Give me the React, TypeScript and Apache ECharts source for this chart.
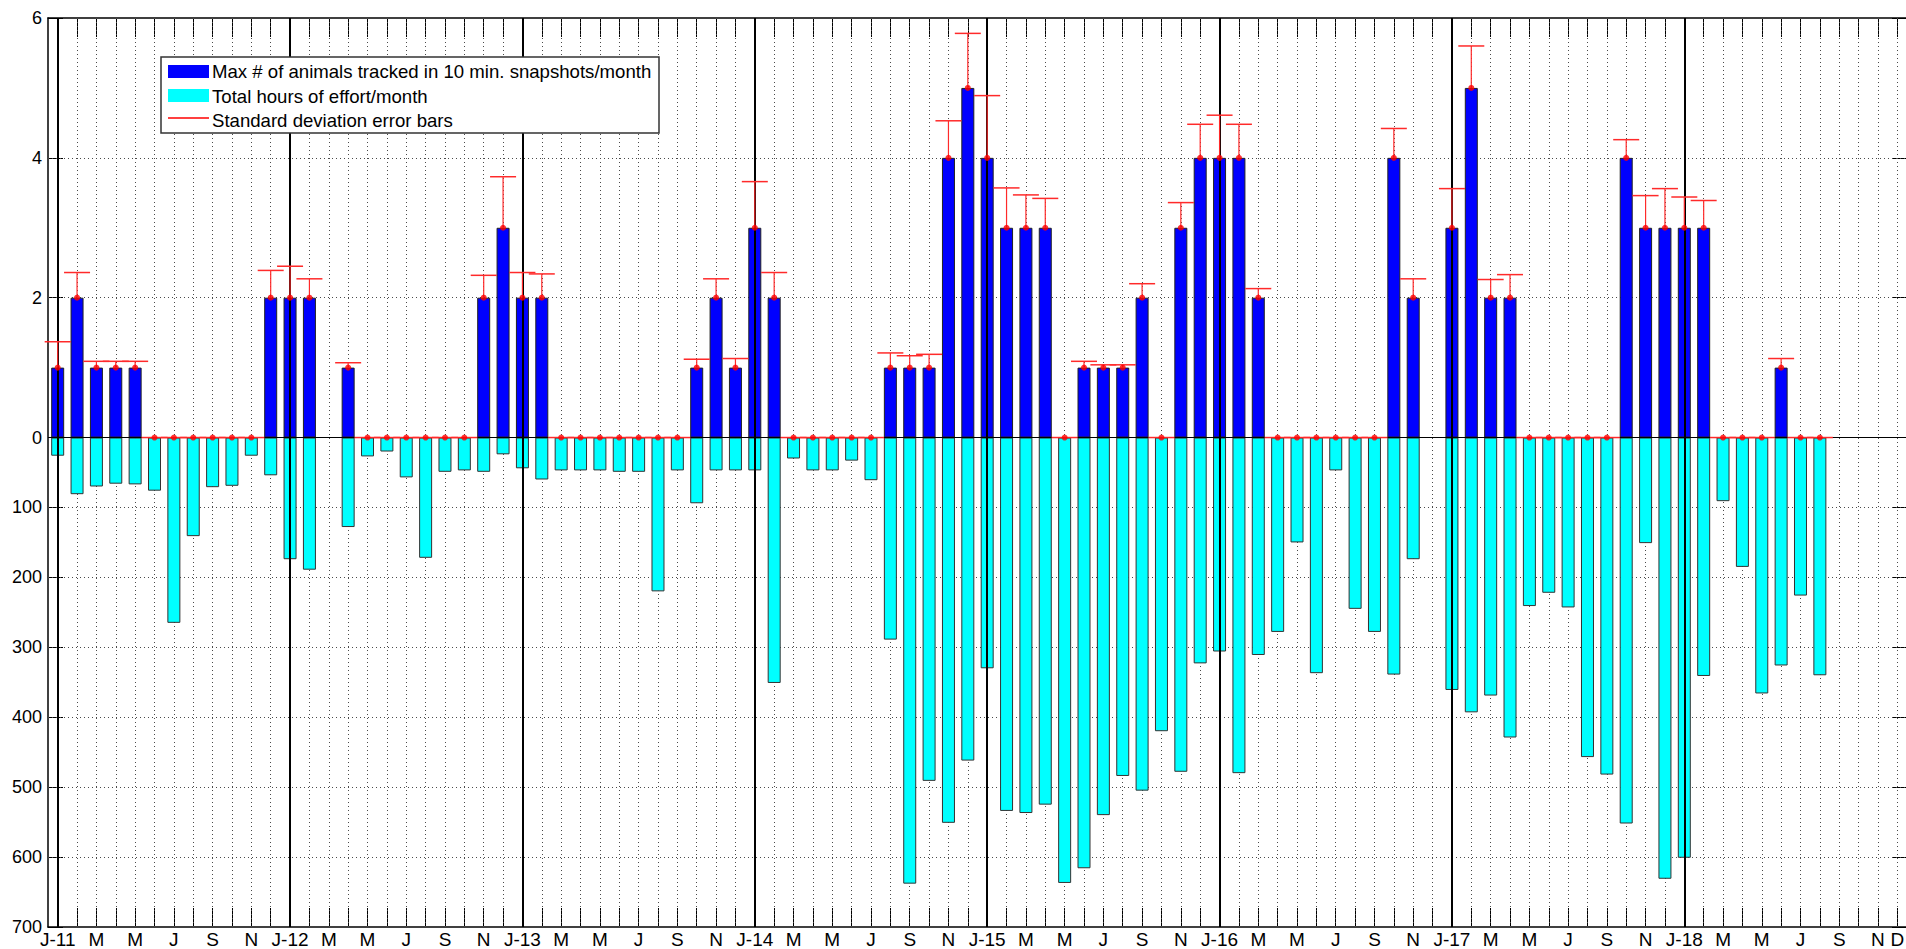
import React, { useEffect, useRef } from 'react';
import * as echarts from 'echarts';

const years = [2011, 2012, 2013, 2014, 2015, 2016, 2017, 2018];
const monthNames = ['Jan', 'Feb', 'Mar', 'Apr', 'May', 'Jun', 'Jul', 'Aug', 'Sep', 'Oct', 'Nov', 'Dec'];
const months: string[] = years.flatMap((y) => monthNames.map((m) => `${m} ${y}`));

const tickLabels = [
  'J-11', 'F', 'M', 'A', 'M', 'J', 'J', 'A', 'S', 'O', 'N', 'D',
  'J-12', 'F', 'M', 'A', 'M', 'J', 'J', 'A', 'S', 'O', 'N', 'D',
  'J-13', 'F', 'M', 'A', 'M', 'J', 'J', 'A', 'S', 'O', 'N', 'D',
  'J-14', 'F', 'M', 'A', 'M', 'J', 'J', 'A', 'S', 'O', 'N', 'D',
  'J-15', 'F', 'M', 'A', 'M', 'J', 'J', 'A', 'S', 'O', 'N', 'D',
  'J-16', 'F', 'M', 'A', 'M', 'J', 'J', 'A', 'S', 'O', 'N', 'D',
  'J-17', 'F', 'M', 'A', 'M', 'J', 'J', 'A', 'S', 'O', 'N', 'D',
  'J-18', 'F', 'M', 'A', 'M', 'J', 'J', 'A', 'S', 'O', 'N', 'D',
];

// Max # of animals tracked in 10 min. snapshots per month
const animalCount: (number | null)[] = [
  1, 2, 1, 1, 1, 0, 0, 0, 0, 0, 0, 2,
  2, 2, null, 1, 0, 0, 0, 0, 0, 0, 2, 3,
  2, 2, 0, 0, 0, 0, 0, 0, 0, 1, 2, 1,
  3, 2, 0, 0, 0, 0, 0, 1, 1, 1, 4, 5,
  4, 3, 3, 3, 0, 1, 1, 1, 2, 0, 3, 4,
  4, 4, 2, 0, 0, 0, 0, 0, 0, 4, 2, null,
  3, 5, 2, 2, 0, 0, 0, 0, 0, 4, 3, 3,
  3, 3, 0, 0, 0, 1, 0, 0, null, null, null, null,
];

// Standard deviation (upper error bar length)
const stdDev: (number | null)[] = [
  0.37, 0.36, 0.09, 0.09, 0.09, 0, 0, 0, 0, 0, 0, 0.39,
  0.45, 0.27, null, 0.07, 0, 0, 0, 0, 0, 0, 0.32, 0.73,
  0.36, 0.34, 0, 0, 0, 0, 0, 0, 0, 0.12, 0.27, 0.13,
  0.66, 0.36, 0, 0, 0, 0, 0, 0.21, 0.17, 0.19, 0.53, 0.78,
  0.89, 0.57, 0.47, 0.42, 0, 0.09, 0.04, 0.04, 0.2, 0, 0.36, 0.48,
  0.61, 0.48, 0.13, 0, 0, 0, 0, 0, 0, 0.42, 0.27, null,
  0.56, 0.6, 0.26, 0.33, 0, 0, 0, 0, 0, 0.26, 0.46, 0.56,
  0.44, 0.39, 0, 0, 0, 0.13, 0, 0, null, null, null, null,
];

// Total hours of effort per month
const effortHours: (number | null)[] = [
  26, 81, 70, 66, 67, 76, 265, 141, 71, 69, 26, 54,
  174, 189, null, 128, 27, 20, 57, 172, 49, 47, 49, 24,
  44, 60, 47, 47, 47, 49, 49, 220, 47, 94, 47, 47,
  47, 351, 30, 47, 47, 33, 61, 289, 638, 491, 551, 462,
  330, 534, 537, 525, 637, 616, 540, 484, 505, 420, 478, 323,
  306, 480, 311, 278, 150, 337, 47, 245, 278, 339, 174, null,
  361, 393, 369, 429, 241, 222, 243, 457, 482, 552, 151, 631,
  601, 341, 91, 185, 366, 326, 226, 340, null, null, null, null,
];

const yTickValues = [6, 4, 2, 0, -1, -2, -3, -4, -5, -6, -7];
const hGridValues = [4, 2, -1, -2, -3, -4, -5, -6];
const legendLabels = [
  'Max # of animals tracked in 10 min. snapshots/month',
  'Total hours of effort/month',
  'Standard deviation error bars',
];

const FONT = '"Liberation Sans", Arial, Helvetica, sans-serif';

export default function App() {
  const ref = useRef<HTMLDivElement>(null);

  useEffect(() => {
    if (!ref.current) return;
    const chart = echarts.init(ref.current, null, { renderer: 'svg' });

    const janMonths = months.filter((m) => m.startsWith('Jan'));
    const dotted = { color: '#4a4a4a', width: 1, type: [1, 3] as number[] };

    const gridLines = [
      ...months.map((m) => ({ xAxis: m, lineStyle: dotted })),
      ...hGridValues.map((v) => ({ yAxis: v, lineStyle: dotted })),
    ];
    const strongLines = [
      { yAxis: 0, lineStyle: { color: '#000', width: 1.2, type: 'solid' } },
      ...janMonths.map((m) => ({ xAxis: m, lineStyle: { color: '#000', width: 2, type: 'solid' } })),
    ];

    const errData: number[][] = [];
    animalCount.forEach((v, i) => {
      if (v == null || stdDev[i] == null) return;
      errData.push([i, v, v + (stdDev[i] as number)]);
    });
    const dotData = errData.map((d) => [d[0], d[1]]);

    const tickCommon = {
      show: true,
      inside: true,
      length: 19,
      alignWithLabel: true,
      interval: 0,
      lineStyle: { color: '#000', width: 1 },
    };
    const axisLineStyle = { show: true, onZero: false, lineStyle: { color: '#000', width: 1.5 } };

    const option: any = {
      animation: false,
      grid: { left: 48, top: 18, width: 1859, height: 909, containLabel: false, outerBoundsMode: 'none' },
      xAxis: [
        {
          type: 'category',
          data: months,
          position: 'bottom',
          boundaryGap: true,
          axisLine: axisLineStyle,
          axisTick: tickCommon,
          axisLabel: {
            interval: (idx: number) => idx % 2 === 0 || idx === months.length - 1,
            formatter: (_v: string, idx: number) => tickLabels[idx],
            color: '#000',
            fontSize: 19,
            fontFamily: FONT,
            margin: 3,
          },
          splitLine: { show: false },
        },
        {
          type: 'category',
          data: months,
          position: 'top',
          boundaryGap: true,
          axisLine: axisLineStyle,
          axisTick: tickCommon,
          axisLabel: { show: false },
          splitLine: { show: false },
        },
      ],
      yAxis: [
        {
          type: 'value',
          min: -7,
          max: 6,
          interval: 1,
          position: 'left',
          axisLine: axisLineStyle,
          axisTick: { show: true, inside: true, length: 15, customValues: yTickValues, lineStyle: { color: '#000', width: 1 } },
          axisLabel: {
            customValues: yTickValues,
            formatter: (v: number) => (v >= 0 ? (v % 2 === 0 ? String(v) : '') : String(Math.round(-v * 100))),
            color: '#000',
            fontSize: 18,
            fontFamily: FONT,
            margin: 6,
          },
          splitLine: { show: false },
        },
        {
          type: 'value',
          min: -7,
          max: 6,
          interval: 1,
          position: 'right',
          axisLine: axisLineStyle,
          axisTick: { show: true, inside: true, length: 15, customValues: yTickValues, lineStyle: { color: '#000', width: 1 } },
          axisLabel: { show: false },
          splitLine: { show: false },
        },
      ],
      series: [
        {
          name: legendLabels[0],
          type: 'bar',
          data: animalCount,
          barWidth: 13,
          barGap: '-100%',
          z: 2,
          itemStyle: { color: '#0000ff', borderColor: '#222', borderWidth: 1 },
          markLine: {
            z: 10,
            silent: true,
            symbol: ['none', 'none'],
            label: { show: false },
            emphasis: { disabled: true },
            data: strongLines,
          },
        },
        {
          name: legendLabels[1],
          type: 'bar',
          data: effortHours.map((h) => (h == null ? null : -h / 100)),
          barWidth: 13,
          barGap: '-100%',
          z: 2,
          itemStyle: { color: '#00ffff', borderColor: '#333', borderWidth: 1 },
          markLine: {
            z: 1,
            silent: true,
            symbol: ['none', 'none'],
            label: { show: false },
            emphasis: { disabled: true },
            data: gridLines,
          },
        },
        {
          name: legendLabels[2],
          type: 'custom',
          z: 11,
          silent: true,
          data: errData,
          encode: { x: 0, y: [1, 2] },
          renderItem: (_params: any, api: any) => {
            const x = api.value(0);
            const p0 = api.coord([x, api.value(1)]);
            const p1 = api.coord([x, api.value(2)]);
            const half = 13;
            const st = { stroke: '#ff2a2a', lineWidth: 1.5 };
            return {
              type: 'group',
              children: [
                { type: 'line', shape: { x1: p0[0], y1: p0[1], x2: p1[0], y2: p1[1] }, style: { stroke: '#ff2a2a', lineWidth: 1.2 } },
                { type: 'line', shape: { x1: p1[0] - half, y1: p1[1], x2: p1[0] + half, y2: p1[1] }, style: st },
              ],
            };
          },
        },
        {
          type: 'scatter',
          z: 12,
          silent: true,
          data: dotData,
          symbol: 'circle',
          symbolSize: 6,
          itemStyle: { color: '#ff0000' },
        },
      ],
      graphic: [
        { type: 'rect', z: 100, shape: { x: 161, y: 57, width: 498, height: 76 }, style: { fill: '#fff', stroke: '#333', lineWidth: 1.5 } },
        { type: 'rect', z: 101, shape: { x: 168, y: 65, width: 41, height: 13 }, style: { fill: '#0000ff' } },
        { type: 'rect', z: 101, shape: { x: 168, y: 89, width: 41, height: 13 }, style: { fill: '#00ffff' } },
        { type: 'line', z: 101, shape: { x1: 168, y1: 118, x2: 209, y2: 118 }, style: { stroke: '#ff0000', lineWidth: 1.5 } },
        { type: 'text', z: 101, x: 212, y: 71.5, style: { text: legendLabels[0], fontSize: 18.6, fontFamily: FONT, fill: '#000', verticalAlign: 'middle' } },
        { type: 'text', z: 101, x: 212, y: 96, style: { text: legendLabels[1], fontSize: 18.6, fontFamily: FONT, fill: '#000', verticalAlign: 'middle' } },
        { type: 'text', z: 101, x: 212, y: 120, style: { text: legendLabels[2], fontSize: 18.6, fontFamily: FONT, fill: '#000', verticalAlign: 'middle' } },
      ],
    };

    chart.setOption(option);
    return () => chart.dispose();
  }, []);

  return (
    <div
      ref={ref}
      style={{ position: 'absolute', left: 0, top: 0, width: 1906, height: 949, background: '#fff', overflow: 'hidden' }}
    />
  );
}
